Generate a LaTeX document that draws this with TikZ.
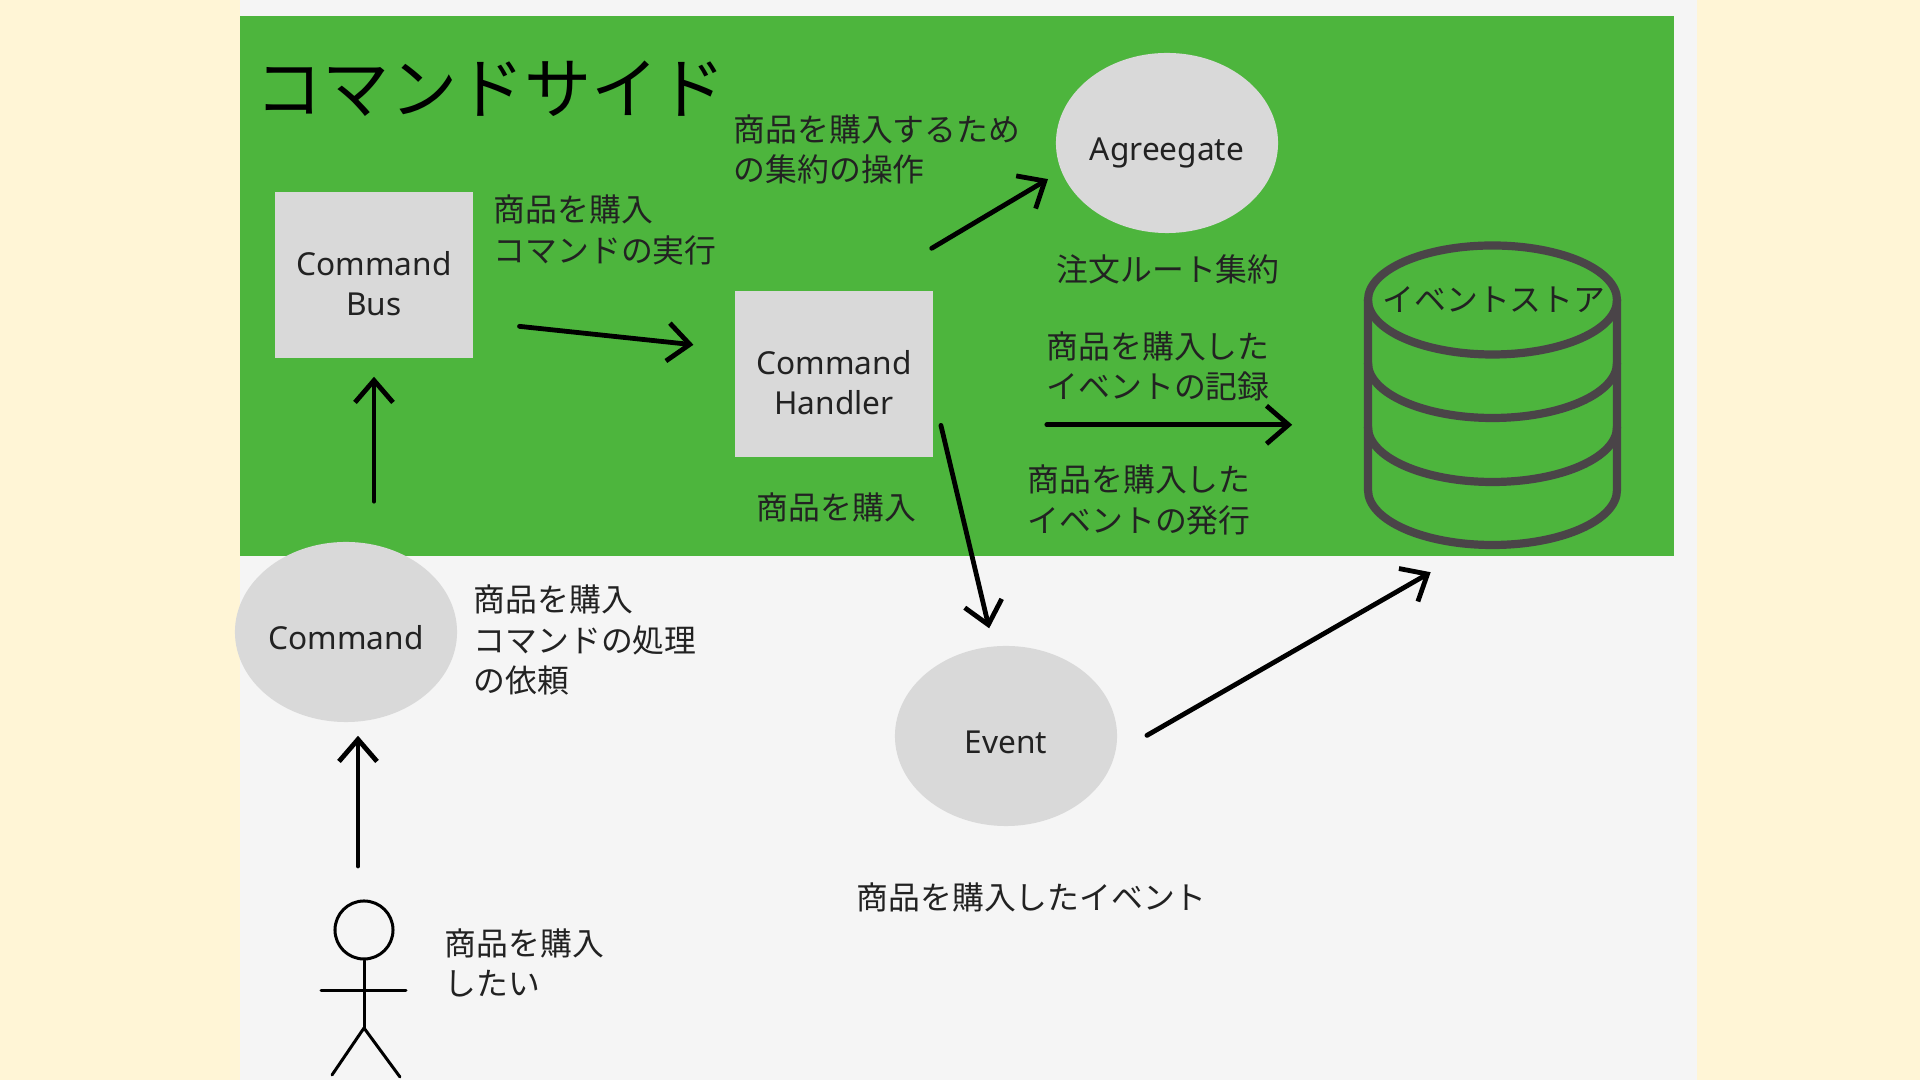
\documentclass[tikz,border=0pt]{standalone}
\usepackage{fontspec}
\setmainfont{Noto Sans}
\newfontfamily\jpfont{Noto Sans CJK JP}
\usetikzlibrary{arrows.meta,shapes.geometric}
\definecolor{creambg}{HTML}{FFF5D6}
\definecolor{panelbg}{HTML}{F5F5F5}
\definecolor{sidegreen}{HTML}{4DB53D}
\definecolor{nodegray}{HTML}{D9D9D9}
\definecolor{storeline}{HTML}{4A4448}
\definecolor{inktext}{HTML}{222222}
\newcommand{\boxstrut}{\rule{0pt}{11.6pt}}
\tikzset{
    boxnode/.style={fill=nodegray, minimum width=1.98cm, minimum height=1.66cm, inner sep=0pt, align=center, text=inktext, font=\fontsize{9}{11.4}\selectfont},
    ovalnode/.style={ellipse, fill=nodegray, minimum width=2.22cm, minimum height=1.8cm, inner sep=0pt, text=inktext, text height=10pt, text depth=0pt, font=\fontsize{9}{11.4}\selectfont},
    note/.style={anchor=west, inner sep=0pt, align=left, text=inktext, font=\jpfont\fontsize{9.05}{11.4}\selectfont},
    flow/.style={line width=0.48mm, -{Straight Barb[length=2.2mm, width=3.8mm, line width=0.48mm]}},
    stick/.style={line width=0.3mm},
    tank/.style={draw=storeline, line width=0.82mm}
}
\begin{document}
\begin{tikzpicture}[x=0.01cm, y=-0.01cm, line cap=round, line join=round]
    % Sfondi
    \fill[creambg] (0,0) rectangle (1920,1080);
    \fill[panelbg] (240,0) rectangle (1697,1080);
    \fill[sidegreen] (240,16) rectangle (1674,556);

    % Titolo
    \node[note, text=black, font=\jpfont\fontsize{19.1}{22}\selectfont] (title) at (255,89) {コマンドサイド};

    % Blocchi
    \node[boxnode] (bus) at (374,275) {\boxstrut Command\\Bus};
    \node[boxnode] (handler) at (834,374) {\boxstrut Command\\Handler};
    \node[ovalnode] (aggregate) at (1167,143) {Agreegate};
    \node[ovalnode] (command) at (346,632) {Command};
    \node[ovalnode] (event) at (1006,736) {Event};

    % Archivio eventi
    \node[minimum width=2.49cm, minimum height=3cm, inner sep=0pt] (store) at (1492.5,395) {};
    \draw[tank] (1492.5,300) ellipse [x radius=124.5, y radius=54.5];
    \draw[tank] (1368,300) -- (1368,490) arc[start angle=180, end angle=0, x radius=124.5, y radius=55] -- (1617,300);
    \draw[tank] (1368,363) arc[start angle=180, end angle=0, x radius=124.5, y radius=55];
    \draw[tank] (1368,427) arc[start angle=180, end angle=0, x radius=124.5, y radius=55];
    \node[note, anchor=center] (storelabel) at (1494,300) {イベントストア};

    % Omino
    \node[circle, draw, stick, minimum size=0.58cm, inner sep=0pt] (actor) at (364,930) {};
    \coordinate (hip) at (364,1028);
    \coordinate (armleft) at (321,991);
    \coordinate (armright) at (406,991);
    \coordinate (footleft) at (332,1075);
    \coordinate (footright) at (400,1077);
    \draw[stick] (actor.south) -- (hip);
    \draw[stick] (armleft) -- (armright);
    \draw[stick] (footleft) -- (hip) -- (footright);

    % Testi
    \node[note] (buylabel) at (733,149) {商品を購入するため\\の集約の操作};
    \node[note] (runlabel) at (493,230) {商品を購入\\コマンドの実行};
    \node[note] (rootlabel) at (1056,269) {注文ルート集約};
    \node[note] (recordlabel) at (1046,366) {商品を購入した\\イベントの記録};
    \node[note] (publishlabel) at (1027,500) {商品を購入した\\イベントの発行};
    \node[note] (handlerlabel) at (756,507) {商品を購入};
    \node[note] (requestlabel) at (473,640) {商品を購入\\コマンドの処理\\の依頼};
    \node[note] (wantlabel) at (444,963) {商品を購入\\したい};
    \node[note] (eventlabel) at (856,897) {商品を購入したイベント};

    % Frecce
    \coordinate (actortop) at (358,866);
    \draw[flow, shorten >=0.13cm] (actortop) -- (actortop |- command.south);
    \draw[flow, shorten <=0.40cm, shorten >=0.18cm] (bus.south |- command.north) -- (bus.south);
    \draw[flow, shorten <=0.46cm, shorten >=0.41cm] (bus.-25) -- (handler.166);
    \draw[flow, shorten <=0.82cm, shorten >=0.15cm] (handler.72.6) -- (aggregate.195.4);
    \draw[flow, shorten <=0.31cm, shorten >=0.18cm] (handler.-12.5) -- (event.98.3);
    \draw[flow, shorten <=1.13cm, shorten >=0.75cm] (handler.-27) -- (store.west |- handler.-27);
    \draw[flow, shorten <=0.36cm, shorten >=0.53cm] (event.-9.6) -- (store.-96.3);
\end{tikzpicture}
\end{document}
